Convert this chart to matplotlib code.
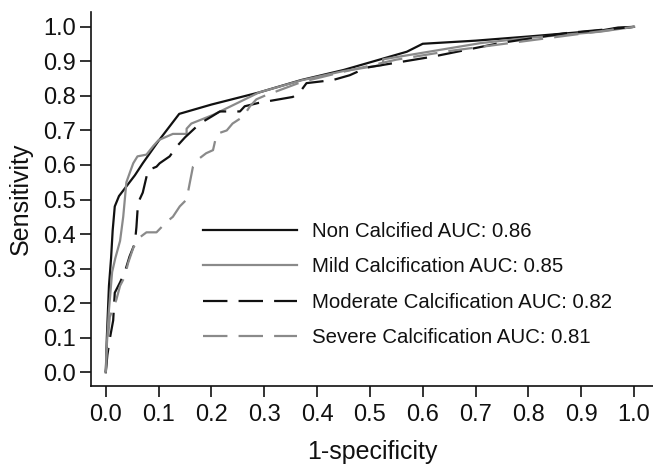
import matplotlib
matplotlib.use("Agg")
import matplotlib.pyplot as plt

# ---- data ----
non_x = [0, 0.002, 0.006, 0.01, 0.013, 0.017, 0.025, 0.035, 0.045, 0.055, 0.07, 0.1, 0.139,
         0.2, 0.29, 0.37, 0.45, 0.57, 0.6, 0.7, 0.8, 0.94, 0.97, 1.0]
non_y = [0, 0.1, 0.25, 0.33, 0.41, 0.48, 0.51, 0.53, 0.55, 0.57, 0.605, 0.67, 0.748,
         0.775, 0.81, 0.846, 0.875, 0.928, 0.951, 0.96, 0.972, 0.99, 0.998, 1.0]

mild_x = [0, 0.002, 0.006, 0.012, 0.018, 0.027, 0.033, 0.039, 0.046, 0.052, 0.06, 0.077, 0.09,
          0.1, 0.127, 0.153, 0.153, 0.162, 0.203, 0.25, 0.29, 0.37, 0.45, 0.525, 0.525, 0.6,
          0.71, 0.8, 0.936, 1.0]
mild_y = [0, 0.08, 0.18, 0.29, 0.33, 0.38, 0.45, 0.55, 0.58, 0.605, 0.625, 0.63, 0.655,
          0.672, 0.69, 0.69, 0.705, 0.72, 0.745, 0.78, 0.81, 0.845, 0.872, 0.89, 0.906, 0.925,
          0.953, 0.968, 0.986, 1.0]

mod_x = [0, 0.003, 0.008, 0.014, 0.017, 0.027, 0.036, 0.045, 0.055, 0.058, 0.061, 0.07, 0.08,
         0.096, 0.102, 0.121, 0.134, 0.15, 0.178, 0.2, 0.216, 0.254, 0.263, 0.29, 0.354, 0.367,
         0.38, 0.43, 0.462, 0.494, 0.62, 0.746, 0.872, 1.0]
mod_y = [0, 0.05, 0.1, 0.15, 0.23, 0.26, 0.29, 0.335, 0.373, 0.42, 0.49, 0.52, 0.585,
         0.595, 0.605, 0.625, 0.653, 0.68, 0.72, 0.74, 0.755, 0.755, 0.77, 0.78, 0.797, 0.81,
         0.837, 0.846, 0.86, 0.882, 0.914, 0.953, 0.982, 1.0]

sev_x = [0, 0.002, 0.0076, 0.02, 0.027, 0.036, 0.042, 0.052, 0.064, 0.077, 0.096, 0.115, 0.127,
         0.14, 0.153, 0.159, 0.165, 0.178, 0.19, 0.203, 0.21, 0.229, 0.24, 0.26, 0.273, 0.285,
         0.30, 0.37, 0.45, 0.55, 0.65, 0.75, 0.85, 0.95, 1.0]
sev_y = [0, 0.06, 0.16, 0.21, 0.25, 0.277, 0.315, 0.36, 0.39, 0.405, 0.405, 0.435, 0.45,
         0.48, 0.5, 0.548, 0.595, 0.62, 0.634, 0.643, 0.69, 0.70, 0.72, 0.74, 0.77, 0.79,
         0.80, 0.84, 0.87, 0.905, 0.93, 0.95, 0.97, 0.99, 1.0]

labels = ["Non Calcified AUC: 0.86", "Mild Calcification AUC: 0.85",
          "Moderate Calcification AUC: 0.82", "Severe Calcification AUC: 0.81"]
ticks = [0.0, 0.1, 0.2, 0.3, 0.4, 0.5, 0.6, 0.7, 0.8, 0.9, 1.0]
tick_labels = ["0.0", "0.1", "0.2", "0.3", "0.4", "0.5", "0.6", "0.7", "0.8", "0.9", "1.0"]

plt.rcParams['font.family'] = ['Liberation Sans', 'DejaVu Sans']

fig = plt.figure(figsize=(6.53, 4.68), dpi=100)
ax = fig.add_axes([91/653, 82/468, (653-91)/653, (386-12)/468])

black = "#111111"
grey = "#8a8a8a"
lw = 1.6
ax.plot(non_x, non_y, color=black, lw=lw, label=labels[0])
ax.plot(mild_x, mild_y, color=grey, lw=lw, label=labels[1])
ax.plot(mod_x, mod_y, color=black, lw=lw, dashes=(11, 5), label=labels[2])
ax.plot(sev_x, sev_y, color=grey, lw=lw, dashes=(11, 5), label=labels[3])

ax.set_xlim(-0.028, 1.036)
ax.set_ylim(-0.04, 1.043)
ax.set_xticks(ticks)
ax.set_xticklabels(tick_labels)
ax.set_yticks(ticks)
ax.set_yticklabels(tick_labels)
for s in ["top", "right"]:
    ax.spines[s].set_visible(False)
for s in ["left", "bottom"]:
    ax.spines[s].set_linewidth(1.2)
    ax.spines[s].set_color("#111111")
ax.tick_params(axis="both", labelsize=17, width=1.2, length=8, color="#111111", labelcolor="#111111")
ax.tick_params(axis="y", pad=3)
ax.tick_params(axis="x", pad=5)

ax.set_ylabel("Sensitivity", fontsize=18, color="#111111", labelpad=7)
ax.set_xlabel("1-specificity", fontsize=18, color="#111111", labelpad=10)

leg = ax.legend(loc="upper left", bbox_to_anchor=((203-91)/562, (386-222)/374),
                frameon=False, fontsize=14.7, handlelength=4.6, handletextpad=0.73,
                labelspacing=0.8, borderaxespad=0, borderpad=0)
for t in leg.get_texts():
    t.set_color("#111111")

fig.savefig("out.png", dpi=100)
